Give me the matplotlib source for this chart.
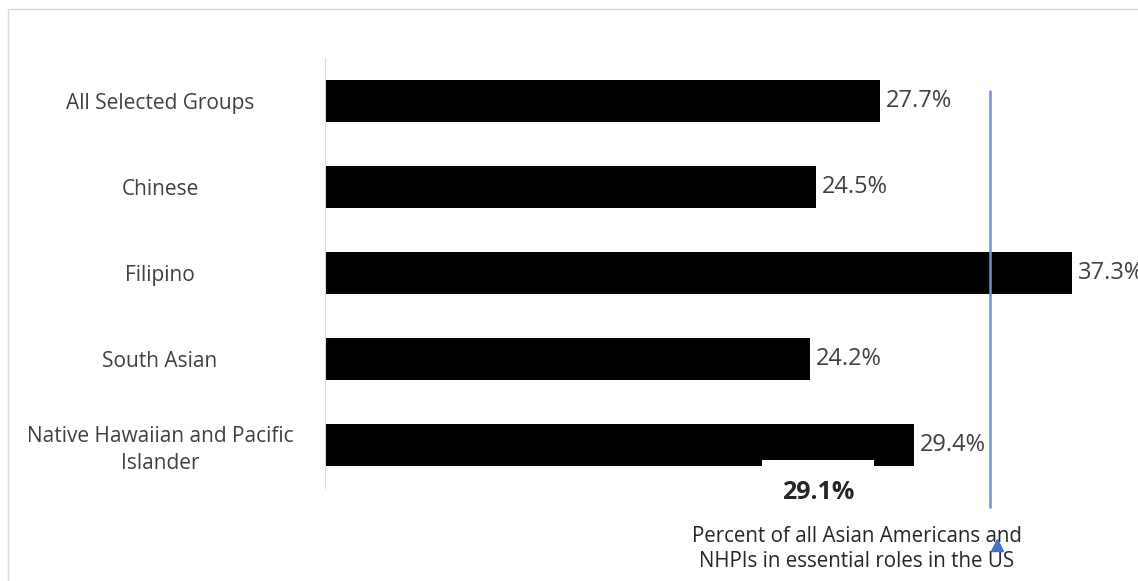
import matplotlib
matplotlib.use("Agg")
import matplotlib.pyplot as plt
from matplotlib.patches import Rectangle

categories = ["All Selected Groups", "Chinese", "Filipino", "South Asian",
              "Native Hawaiian and Pacific\nIslander"]
values = [27.7, 24.5, 37.3, 24.2, 29.4]
value_labels = ["27.7%", "24.5%", "37.3%", "24.2%", "29.4%"]
benchmark_label = "29.1%"
benchmark_line_x = 33.2
benchmark_text = "Percent of all Asian Americans and\nNHPIs in essential roles in the US"

W, H = 1138, 581
fig = plt.figure(figsize=(W / 100, H / 100), dpi=100)
plt.rcParams['font.family'] = ['Open Sans', 'DejaVu Sans']

# outer frame
fig.patches.append(Rectangle((8 / W, -0.1), 1.2, 1 - 9 / H + 0.1, transform=fig.transFigure,
                             fill=False, edgecolor='#d9d9d9', linewidth=1))

fig.text(857 / W, 1 - 549 / H, benchmark_text, ha='center', va='center', fontsize=14.8,
         color='#262626', linespacing=1.25, zorder=1)

ax_left, ax_right = 325, 1138
ax_top, ax_bottom = 58, 488
ax = fig.add_axes([ax_left / W, 1 - ax_bottom / H, (ax_right - ax_left) / W, (ax_bottom - ax_top) / H])
ax.set_zorder(5)
ax.set_xlim(0, (ax_right - ax_left) / 20.03)
ax.set_ylim(len(categories) - 0.5, -0.5)
ax.patch.set_alpha(0)

y = list(range(len(categories)))
ax.barh(y, values, height=0.49, color='black')
for yi, v, lab in zip(y, values, value_labels):
    ax.annotate(lab, (v, yi), xytext=(4.5, 0), textcoords='offset points',
                va='center', ha='left', fontsize=17, color='#404040', annotation_clip=False)

for s in ['top', 'right', 'bottom']:
    ax.spines[s].set_visible(False)
ax.spines['left'].set_color('#d9d9d9')
ax.set_xticks([])
ax.set_yticks(y)
ax.set_yticklabels(categories, fontsize=15, color='#404040', ha='center', linespacing=1.35)
ax.tick_params(axis='y', length=0, pad=(ax_left - 160) * 0.72)

# benchmark line
ax.plot([benchmark_line_x, benchmark_line_x], [-0.13, 4.73], color='#7094c8', linewidth=1.8,
        clip_on=False, solid_capstyle='butt')
ax.plot([benchmark_line_x + 0.35], [5.16], marker='^', color='#4472c4', markersize=9,
        clip_on=False)

# benchmark label
ax.text(24.6, 4.55, benchmark_label, ha='center', va='center', fontsize=18, fontweight='bold',
        color='#262626', clip_on=False,
        bbox=dict(boxstyle='square,pad=0.8', facecolor='white', edgecolor='none'))

fig.savefig("out.png", dpi=100)
